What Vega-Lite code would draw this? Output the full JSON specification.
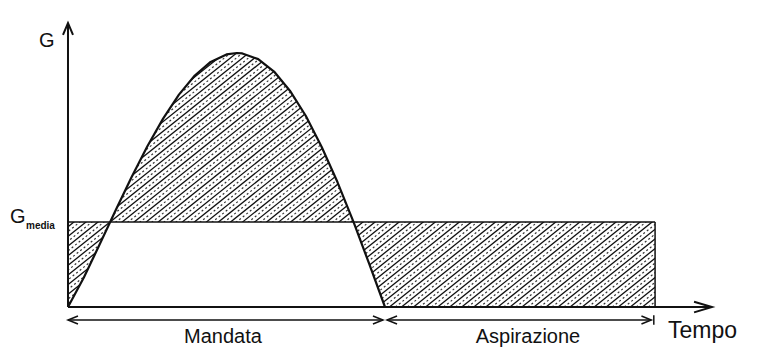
{
  "$schema": "https://vega.github.io/schema/vega-lite/v6.json",
  "width": 760,
  "height": 353,
  "autosize": "none",
  "padding": 0,
  "background": "white",
  "config": {"view": {"stroke": null}, "text": {"font": "Liberation Sans", "color": "#111"}},
  "datasets": {
    "hatch": [
      {"x": -1.000, "x2": 0.000}, {"x": -0.962, "x2": 0.038}, {"x": -0.924, "x2": 0.076}, {"x": -0.886, "x2": 0.114},
      {"x": -0.848, "x2": 0.152}, {"x": -0.810, "x2": 0.190}, {"x": -0.772, "x2": 0.228}, {"x": -0.734, "x2": 0.266},
      {"x": -0.696, "x2": 0.304}, {"x": -0.658, "x2": 0.342}, {"x": -0.620, "x2": 0.380}, {"x": -0.582, "x2": 0.418},
      {"x": -0.544, "x2": 0.456}, {"x": -0.506, "x2": 0.494}, {"x": -0.468, "x2": 0.532}, {"x": -0.430, "x2": 0.570},
      {"x": -0.392, "x2": 0.608}, {"x": -0.354, "x2": 0.646}, {"x": -0.316, "x2": 0.684}, {"x": -0.278, "x2": 0.722},
      {"x": -0.240, "x2": 0.760}, {"x": -0.202, "x2": 0.798}, {"x": -0.164, "x2": 0.836}, {"x": -0.126, "x2": 0.874},
      {"x": -0.088, "x2": 0.912}, {"x": -0.050, "x2": 0.950}, {"x": -0.012, "x2": 0.988}, {"x": 0.026, "x2": 1.026},
      {"x": 0.064, "x2": 1.064}, {"x": 0.102, "x2": 1.102}, {"x": 0.140, "x2": 1.140}, {"x": 0.178, "x2": 1.178},
      {"x": 0.216, "x2": 1.216}, {"x": 0.254, "x2": 1.254}, {"x": 0.292, "x2": 1.292}, {"x": 0.330, "x2": 1.330},
      {"x": 0.368, "x2": 1.368}, {"x": 0.406, "x2": 1.406}, {"x": 0.444, "x2": 1.444}, {"x": 0.482, "x2": 1.482},
      {"x": 0.520, "x2": 1.520}, {"x": 0.558, "x2": 1.558}, {"x": 0.596, "x2": 1.596}, {"x": 0.634, "x2": 1.634},
      {"x": 0.672, "x2": 1.672}, {"x": 0.710, "x2": 1.710}, {"x": 0.748, "x2": 1.748}, {"x": 0.786, "x2": 1.786},
      {"x": 0.824, "x2": 1.824}, {"x": 0.862, "x2": 1.862}, {"x": 0.900, "x2": 1.900}, {"x": 0.938, "x2": 1.938},
      {"x": 0.976, "x2": 1.976}, {"x": 1.014, "x2": 2.014}, {"x": 1.052, "x2": 2.052}, {"x": 1.090, "x2": 2.090},
      {"x": 1.128, "x2": 2.128}, {"x": 1.166, "x2": 2.166}, {"x": 1.204, "x2": 2.204}, {"x": 1.242, "x2": 2.242},
      {"x": 1.280, "x2": 2.280}, {"x": 1.318, "x2": 2.318}, {"x": 1.356, "x2": 2.356}, {"x": 1.394, "x2": 2.394},
      {"x": 1.432, "x2": 2.432}, {"x": 1.470, "x2": 2.470}, {"x": 1.508, "x2": 2.508}, {"x": 1.546, "x2": 2.546},
      {"x": 1.584, "x2": 2.584}, {"x": 1.622, "x2": 2.622}, {"x": 1.660, "x2": 2.660}, {"x": 1.698, "x2": 2.698},
      {"x": 1.736, "x2": 2.736}, {"x": 1.774, "x2": 2.774}, {"x": 1.812, "x2": 2.812}, {"x": 1.850, "x2": 2.850}
    ],
    "hump": [
      {"t": 0, "g": 0}, {"t": 0.05, "g": 0.1161}, {"t": 0.1, "g": 0.2468}, {"t": 0.133, "g": 0.335},
      {"t": 0.15, "g": 0.3801}, {"t": 0.2, "g": 0.5099}, {"t": 0.25, "g": 0.6317}, {"t": 0.3, "g": 0.7417},
      {"t": 0.35, "g": 0.836}, {"t": 0.4, "g": 0.9115}, {"t": 0.45, "g": 0.965}, {"t": 0.5, "g": 0.9945},
      {"t": 0.5326, "g": 1.0}, {"t": 0.55, "g": 0.9984}, {"t": 0.6, "g": 0.9759}, {"t": 0.65, "g": 0.927},
      {"t": 0.7, "g": 0.8517}, {"t": 0.75, "g": 0.753}, {"t": 0.8, "g": 0.6312}, {"t": 0.85, "g": 0.492},
      {"t": 0.9, "g": 0.337}, {"t": 0.9007, "g": 0.335}, {"t": 0.95, "g": 0.1706}, {"t": 1, "g": 0}
    ],
    "maskTop": [
      {"t": -0.05, "lo": 0.335}, {"t": 0.133, "lo": 0.335}, {"t": 0.15, "lo": 0.3801}, {"t": 0.2, "lo": 0.5099},
      {"t": 0.25, "lo": 0.6317}, {"t": 0.3, "lo": 0.7417}, {"t": 0.35, "lo": 0.836}, {"t": 0.4, "lo": 0.9115},
      {"t": 0.45, "lo": 0.965}, {"t": 0.5, "lo": 0.9945}, {"t": 0.5326, "lo": 1.0}, {"t": 0.55, "lo": 0.9984},
      {"t": 0.6, "lo": 0.9759}, {"t": 0.65, "lo": 0.927}, {"t": 0.7, "lo": 0.8517}, {"t": 0.75, "lo": 0.753},
      {"t": 0.8, "lo": 0.6312}, {"t": 0.85, "lo": 0.492}, {"t": 0.9, "lo": 0.337}, {"t": 0.9007, "lo": 0.335},
      {"t": 1.95, "lo": 0.335}
    ],
    "maskBottom": [
      {"t": 0, "hi": 0}, {"t": 0.05, "hi": 0.1161}, {"t": 0.1, "hi": 0.2468}, {"t": 0.133, "hi": 0.335},
      {"t": 0.9007, "hi": 0.335}, {"t": 0.95, "hi": 0.1706}, {"t": 1, "hi": 0}
    ],
    "maskSides": [
      {"x1": -0.3, "x2": 0, "y1": -0.03, "y2": 1.05},
      {"x1": 1.852, "x2": 2.3, "y1": -0.03, "y2": 1.05}
    ],
    "thick": [
      {"id": "yaxis", "o": 1, "t": 0, "g": 0}, {"id": "yaxis", "o": 2, "t": 0, "g": 1.118},
      {"id": "yarrow", "o": 1, "t": -0.0158, "g": 1.071}, {"id": "yarrow", "o": 2, "t": 0, "g": 1.118}, {"id": "yarrow", "o": 3, "t": 0.0158, "g": 1.071},
      {"id": "xaxis", "o": 1, "t": 0, "g": 0}, {"id": "xaxis", "o": 2, "t": 2.0315, "g": 0},
      {"id": "xarrow", "o": 1, "t": 1.975, "g": 0.021}, {"id": "xarrow", "o": 2, "t": 2.0315, "g": 0}, {"id": "xarrow", "o": 3, "t": 1.975, "g": -0.021}
    ],
    "thin": [
      {"id": "gm", "o": 1, "t": 0, "g": 0.335}, {"id": "gm", "o": 2, "t": 1.852, "g": 0.335},
      {"id": "rv", "o": 1, "t": 1.852, "g": 0}, {"id": "rv", "o": 2, "t": 1.852, "g": 0.335},
      {"id": "d1", "o": 1, "t": 0, "g": -0.0512}, {"id": "d1", "o": 2, "t": 0.9937, "g": -0.0512},
      {"id": "d1l", "o": 1, "t": 0.0315, "g": -0.0355}, {"id": "d1l", "o": 2, "t": 0, "g": -0.0512}, {"id": "d1l", "o": 3, "t": 0.0315, "g": -0.0669},
      {"id": "d1r", "o": 1, "t": 0.962, "g": -0.0355}, {"id": "d1r", "o": 2, "t": 0.9937, "g": -0.0512}, {"id": "d1r", "o": 3, "t": 0.962, "g": -0.0669},
      {"id": "d2", "o": 1, "t": 1.0063, "g": -0.0512}, {"id": "d2", "o": 2, "t": 1.84, "g": -0.0512},
      {"id": "d2l", "o": 1, "t": 1.038, "g": -0.0355}, {"id": "d2l", "o": 2, "t": 1.0063, "g": -0.0512}, {"id": "d2l", "o": 3, "t": 1.038, "g": -0.0669},
      {"id": "d2r", "o": 1, "t": 1.809, "g": -0.0355}, {"id": "d2r", "o": 2, "t": 1.84, "g": -0.0512}, {"id": "d2r", "o": 3, "t": 1.809, "g": -0.0669},
      {"id": "tick", "o": 1, "t": 1.848, "g": -0.032}, {"id": "tick", "o": 2, "t": 1.848, "g": -0.07}
    ]
  },
  "layer": [
    {
      "data": {"name": "hatch"},
      "mark": {"type": "rule", "clip": true, "stroke": "#111", "strokeWidth": 1.3},
      "encoding": {
        "x": {"field": "x", "type": "quantitative", "scale": {"domain": [-0.2145, 2.183], "nice": false, "zero": false}, "axis": null},
        "x2": {"field": "x2"},
        "y": {"datum": 0, "type": "quantitative", "scale": {"domain": [-0.1811, 1.2087], "nice": false, "zero": false}, "axis": null},
        "y2": {"datum": 1}
      }
    },
    {
      "data": {"name": "hatch"},
      "mark": {"type": "rule", "clip": true, "stroke": "#333", "strokeWidth": 1.2, "strokeDash": [2, 2.5], "xOffset": 6, "x2Offset": 6},
      "encoding": {
        "x": {"field": "x", "type": "quantitative", "scale": {"domain": [-0.2145, 2.183], "nice": false, "zero": false}, "axis": null},
        "x2": {"field": "x2"},
        "y": {"datum": 0, "type": "quantitative", "scale": {"domain": [-0.1811, 1.2087], "nice": false, "zero": false}, "axis": null},
        "y2": {"datum": 1}
      }
    },
    {
      "data": {"name": "maskTop"},
      "mark": {"type": "area", "color": "white", "opacity": 1},
      "encoding": {
        "x": {"field": "t", "type": "quantitative", "scale": {"domain": [-0.2145, 2.183], "nice": false, "zero": false}, "axis": null},
        "y": {"field": "lo", "type": "quantitative", "scale": {"domain": [-0.1811, 1.2087], "nice": false, "zero": false}, "axis": null},
        "y2": {"datum": 1.05}
      }
    },
    {
      "data": {"name": "maskBottom"},
      "mark": {"type": "area", "color": "white", "opacity": 1},
      "encoding": {
        "x": {"field": "t", "type": "quantitative", "scale": {"domain": [-0.2145, 2.183], "nice": false, "zero": false}, "axis": null},
        "y": {"field": "hi", "type": "quantitative", "scale": {"domain": [-0.1811, 1.2087], "nice": false, "zero": false}, "axis": null},
        "y2": {"datum": -0.01}
      }
    },
    {
      "data": {"name": "maskSides"},
      "mark": {"type": "rect", "color": "white", "opacity": 1},
      "encoding": {
        "x": {"field": "x1", "type": "quantitative", "scale": {"domain": [-0.2145, 2.183], "nice": false, "zero": false}, "axis": null},
        "x2": {"field": "x2"},
        "y": {"field": "y1", "type": "quantitative", "scale": {"domain": [-0.1811, 1.2087], "nice": false, "zero": false}, "axis": null},
        "y2": {"field": "y2"}
      }
    },
    {
      "data": {"name": "hump"},
      "mark": {"type": "line", "stroke": "#111", "strokeWidth": 2.2, "strokeJoin": "round"},
      "encoding": {
        "x": {"field": "t", "type": "quantitative", "scale": {"domain": [-0.2145, 2.183], "nice": false, "zero": false}, "axis": null},
        "y": {"field": "g", "type": "quantitative", "scale": {"domain": [-0.1811, 1.2087], "nice": false, "zero": false}, "axis": null}
      }
    },
    {
      "data": {"name": "thick"},
      "mark": {"type": "line", "stroke": "#111", "strokeWidth": 2, "strokeJoin": "miter"},
      "encoding": {
        "x": {"field": "t", "type": "quantitative", "scale": {"domain": [-0.2145, 2.183], "nice": false, "zero": false}, "axis": null},
        "y": {"field": "g", "type": "quantitative", "scale": {"domain": [-0.1811, 1.2087], "nice": false, "zero": false}, "axis": null},
        "detail": {"field": "id"},
        "order": {"field": "o"}
      }
    },
    {
      "data": {"name": "thin"},
      "mark": {"type": "line", "stroke": "#111", "strokeWidth": 1.5},
      "encoding": {
        "x": {"field": "t", "type": "quantitative", "scale": {"domain": [-0.2145, 2.183], "nice": false, "zero": false}, "axis": null},
        "y": {"field": "g", "type": "quantitative", "scale": {"domain": [-0.1811, 1.2087], "nice": false, "zero": false}, "axis": null},
        "detail": {"field": "id"},
        "order": {"field": "o"}
      }
    },
    {
      "data": {"values": [{"label": "Mandata", "t": 0.489, "g": -0.1417}, {"label": "Aspirazione", "t": 1.451, "g": -0.1417}]},
      "mark": {"type": "text", "fontSize": 20, "align": "center", "baseline": "alphabetic"},
      "encoding": {
        "x": {"field": "t", "type": "quantitative", "scale": {"domain": [-0.2145, 2.183], "nice": false, "zero": false}, "axis": null},
        "y": {"field": "g", "type": "quantitative", "scale": {"domain": [-0.1811, 1.2087], "nice": false, "zero": false}, "axis": null},
        "text": {"field": "label"}
      }
    },
    {
      "data": {"values": [{"label": "Tempo", "t": 1.893, "g": -0.122}]},
      "mark": {"type": "text", "fontSize": 23, "align": "left", "baseline": "alphabetic"},
      "encoding": {
        "x": {"field": "t", "type": "quantitative", "scale": {"domain": [-0.2145, 2.183], "nice": false, "zero": false}, "axis": null},
        "y": {"field": "g", "type": "quantitative", "scale": {"domain": [-0.1811, 1.2087], "nice": false, "zero": false}, "axis": null},
        "text": {"field": "label"}
      }
    },
    {
      "data": {"values": [{"label": "G", "t": -0.0915, "g": 1.0236}, {"label": "G", "t": -0.183, "g": 0.3307}]},
      "mark": {"type": "text", "fontSize": 20, "align": "left", "baseline": "alphabetic"},
      "encoding": {
        "x": {"field": "t", "type": "quantitative", "scale": {"domain": [-0.2145, 2.183], "nice": false, "zero": false}, "axis": null},
        "y": {"field": "g", "type": "quantitative", "scale": {"domain": [-0.1811, 1.2087], "nice": false, "zero": false}, "axis": null},
        "text": {"field": "label"}
      }
    },
    {
      "data": {"values": [{"label": "media", "t": -0.1325, "g": 0.307}]},
      "mark": {"type": "text", "fontSize": 10, "fontWeight": "bold", "align": "left", "baseline": "alphabetic"},
      "encoding": {
        "x": {"field": "t", "type": "quantitative", "scale": {"domain": [-0.2145, 2.183], "nice": false, "zero": false}, "axis": null},
        "y": {"field": "g", "type": "quantitative", "scale": {"domain": [-0.1811, 1.2087], "nice": false, "zero": false}, "axis": null},
        "text": {"field": "label"}
      }
    }
  ]
}
